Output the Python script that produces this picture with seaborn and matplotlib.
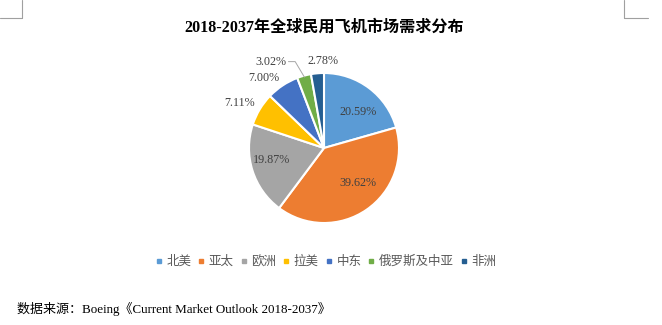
import numpy as np
import matplotlib
matplotlib.use("Agg")
import matplotlib.pyplot as plt
from matplotlib.lines import Line2D
import seaborn as sns

# Market share of new civil aircraft deliveries by region, 2018-2037
regions = ["北美", "亚太", "欧洲", "拉美", "中东", "俄罗斯及中亚", "非洲"]
shares = [20.59, 39.62, 19.87, 7.11, 7.00, 3.02, 2.78]
palette_hex = ["#5B9BD5", "#ED7D31", "#A5A5A5", "#FFC000", "#4472C4", "#70AD47", "#255E91"]

title_text = "2018-2037年全球民用飞机市场需求分布"
source_text = "数据来源：Boeing《Current Market Outlook 2018-2037》"

sns.set_theme(style="white")
plt.rcParams["font.family"] = ["Liberation Serif", "Noto Sans CJK SC", "DejaVu Sans"]

W, H = 662, 325
fig = plt.figure(figsize=(W / 100, H / 100), dpi=100)
fig.patch.set_facecolor("white")

# pie axes: radius 1 -> 75 px, centred on (324, 148) px
cx, cy, half, rad_px = 324, 148, 100, 75
ax = fig.add_axes([(cx - half) / W, (H - cy - half) / H, 2 * half / W, 2 * half / H])

colors = sns.color_palette(palette_hex)
wedges, _ = ax.pie(
    shares, colors=colors, startangle=90, counterclock=False,
    wedgeprops=dict(edgecolor="white", linewidth=1.5),
)
ax.set_xlim(-half / rad_px, half / rad_px)
ax.set_ylim(-half / rad_px, half / rad_px)
ax.set_aspect("equal")
ax.axis("off")

# label placement: (radius, angular shift in degrees) per slice
label_place = [(0.66, -6), (0.65, 10), (0.72, -5), (1.27, 3), (1.23, 7), (1.35, 16), (1.16, -4)]
label_color = "#404040"
for w, val, (r, shift) in zip(wedges, shares, label_place):
    mid = np.deg2rad((w.theta1 + w.theta2) / 2 + shift)
    x, y = r * np.cos(mid), r * np.sin(mid)
    ax.text(x, y, f"{val:.2f}%", ha="center", va="center",
            fontsize=8.7, color=label_color, family=["Liberation Serif"])

# leader line for the Russia & Central Asia slice
w = wedges[5]
mid_deg = (w.theta1 + w.theta2) / 2
tip = (0.98 * np.cos(np.deg2rad(mid_deg)), 0.98 * np.sin(np.deg2rad(mid_deg)))
lab = np.deg2rad(mid_deg + 16)
lx, ly = 1.35 * np.cos(lab), 1.35 * np.sin(lab)
ax.plot([lx + 0.23, lx + 0.32, tip[0]], [ly, ly, tip[1]], color="#A6A6A6", lw=0.7)

# title
fig.text(cx / W, 1 - 28 / H, title_text, ha="center", va="center",
         fontsize=11.6, fontweight="bold", color="black")

# legend
handles = [Line2D([0], [0], marker="s", linestyle="none", markersize=3.5,
                  markerfacecolor=c, markeredgecolor=c) for c in colors]
fig.legend(handles, regions, loc="center", bbox_to_anchor=(326 / W, 1 - 262 / H),
           ncol=7, frameon=False, fontsize=9, handlelength=0.5, handletextpad=0.35,
           columnspacing=0.55, labelcolor="#595959")

# source note
fig.text(17 / W, 1 - 309 / H, source_text, ha="left", va="center",
         fontsize=9.4, color="black")

# crop marks at the top corners
mark = dict(color="#A0A0A0", lw=0.8, transform=None)
for xs, ys in [([22, 22], [0, 18]), ([0, 22], [18, 18]),
               ([624, 624], [0, 18]), ([624, 648], [18, 18])]:
    fig.add_artist(Line2D([xs[0], xs[1]], [H - ys[0], H - ys[1]], **mark))

fig.savefig("out.png", dpi=100)
